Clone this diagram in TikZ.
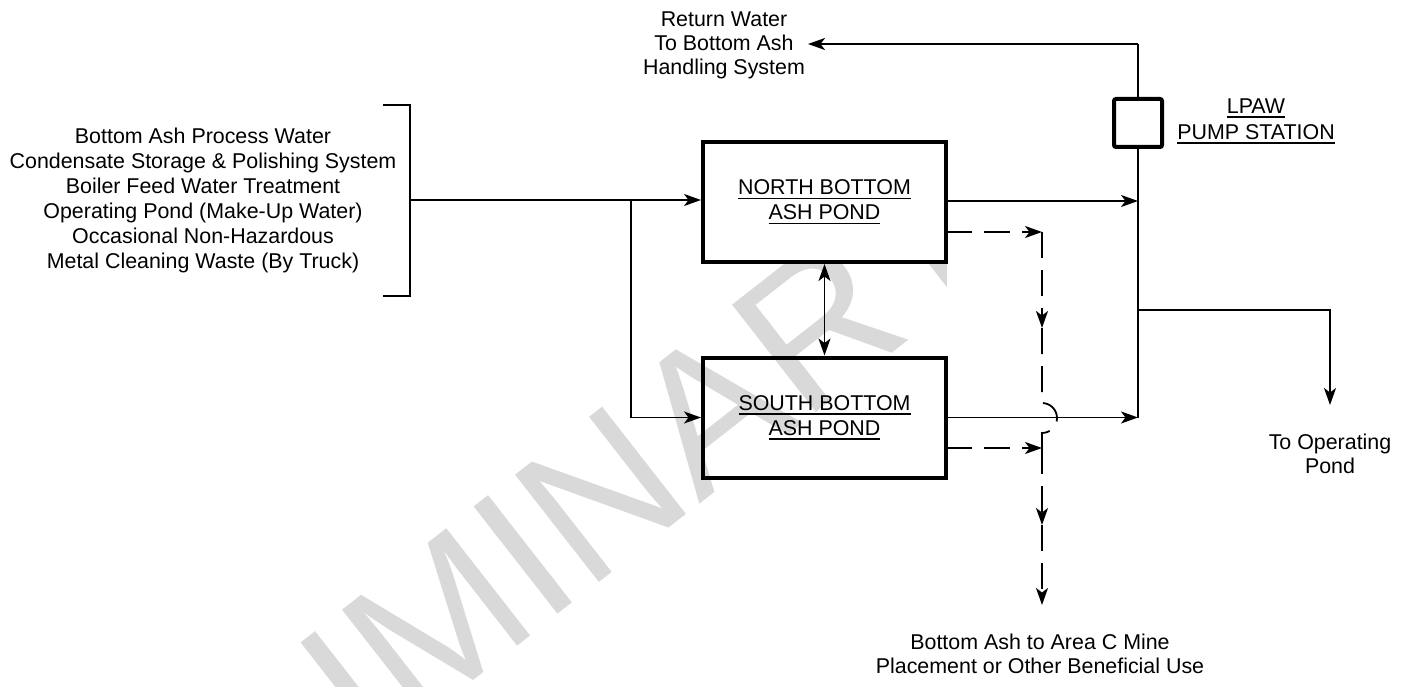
\documentclass[tikz,border=0pt]{standalone}
\usepackage{fontspec}
\setmainfont{Liberation Sans}
\usetikzlibrary{arrows.meta}
\newcommand\myul[1]{\setbox0\hbox{#1}\rlap{\rule[-4.5pt]{\wd0}{1.6pt}}\box0}
\definecolor{wm}{HTML}{D9D9D9}
\begin{document}
\begin{tikzpicture}[x=1pt,y=-1pt,
  every node/.style={font=\fontsize{21.4}{24}\selectfont, align=center, inner sep=0pt},
  pond/.style={draw, line width=4pt, minimum width=243pt, minimum height=120pt},
  pumpbox/.style={draw, line width=4pt, minimum width=48pt, minimum height=48pt, rounded corners=2pt},
  tip/.tip={Stealth[length=17pt,width=12pt,inset=4.5pt]},
  pipe/.style={line width=1.8pt},
  flow/.style={pipe, -tip},
  dashpipe/.style={pipe, dash pattern=on 26pt off 12pt},
  dashflow/.style={dashpipe, -tip},
]
\useasboundingbox (0,0) rectangle (1405,687);
\begin{scope}
\clip (0,0) rectangle (946,687);
\node[font=\fontsize{198}{198}\selectfont, text=wm, rotate=38] (wmark) at (448,614) {PRELIMINARY};
\end{scope}

% ponds
\node[pond, fill=white] (north) at (824.5,202) {\myul{NORTH BOTTOM}\\[1pt]\myul{ASH POND}};
\node[pond] (south) at (824.5,417.5) {\myul{SOUTH BOTTOM}\\[1pt]\myul{ASH POND}};
\node[pumpbox] (pump) at (1138,123) {};
\node (lpaw) at (1256,121) {\myul{LPAW}\\[2pt]\myul{PUMP STATION}};

% left sources
\node[font=\fontsize{21.4}{25}\selectfont] (src) at (203,200) {Bottom Ash Process Water\\Condensate Storage \& Polishing System\\Boiler Feed Water Treatment\\Operating Pond (Make-Up Water)\\Occasional Non-Hazardous\\Metal Cleaning Waste (By Truck)};
\coordinate (bt0) at (383,105);
\coordinate (bt1) at (410,105);
\coordinate (bb1) at (410,296);
\coordinate (bb0) at (383,296);
\coordinate (bin) at (410,200);
\coordinate (split) at (631,200);
\draw[pipe] (bt0) -- (bt1) -- (bb1) -- (bb0);
\draw[flow] (bin) -- (north.west |- bin);
\draw[flow] (split) |- (south.west);
\draw[{tip}-{tip}, pipe] (north.south) -- (south.north);

% outputs to pump line
\coordinate (ptop) at (1138,44);
\coordinate (pbot) at (1138,417.5);
\coordinate (pn) at (1138,201);
\coordinate (pbr) at (1138,310);
\coordinate (opc) at (1330,310);
\coordinate (opt) at (1330,405);
\draw[flow] (north.east |- pn) -- (pn);
\draw[flow] (south.east) -- (pbot);
\draw[pipe] (ptop) -- (pump.north);
\draw[pipe] (pump.south) -- (pbot);
\coordinate (ret) at (808,44);
\draw[flow] (ptop) -- (ret);
\draw[flow] (pbr) -- (opc) -- (opt);
\node (rettext) at (724,45) {Return Water\\To Bottom Ash\\Handling System};
\node (optext) at (1330,454) {To Operating\\Pond};

% dashed ash removal
\coordinate (dn0) at (946,232);
\coordinate (dn) at (1042,232);
\coordinate (ds0) at (946,448);
\coordinate (ds) at (1042,448);
\coordinate (da1) at (1042,328);
\coordinate (dj) at (1042,403);
\coordinate (da2) at (1042,525);
\coordinate (da3) at (1042,605);
\draw[dashflow] (dn0) -- (dn);
\draw[dashflow] (ds0) -- (ds);
\draw[dashflow] (dn) -- (da1);
\draw[dashpipe] (da1) -- (dj) arc[start angle=-90, end angle=90, radius=15] -- (ds);
\draw[dashflow] (ds) -- (da2);
\draw[dashflow] (da2) -- (da3);
\node (ashtext) at (1040,654) {Bottom Ash to Area C Mine\\Placement or Other Beneficial Use};
\end{tikzpicture}
\end{document}
